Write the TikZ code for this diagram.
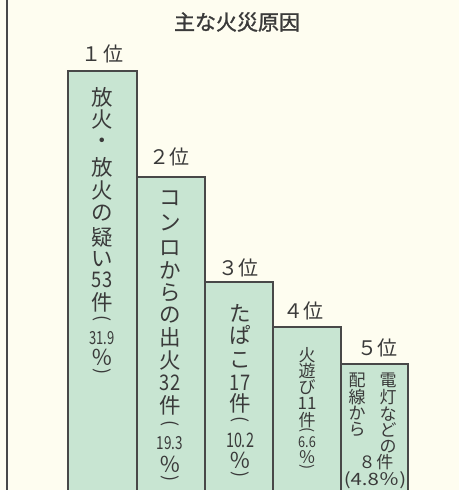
\documentclass[tikz,border=0pt]{standalone}
\usepackage{fontspec}
\newfontfamily\jp{Noto Sans CJK JP}
\newfontfamily\jpmed{Noto Sans CJK JP}[FakeBold=1.3]
\definecolor{bg}{HTML}{FEFDF0}
\definecolor{barfill}{HTML}{C8E5D2}
\definecolor{ink}{HTML}{3A3A3A}
\definecolor{edge}{HTML}{484848}
\newcommand{\vlp}{\rotatebox[origin=c]{-90}{(}}
\newcommand{\vrp}{\rotatebox[origin=c]{-90}{)}}
\begin{document}
\begin{tikzpicture}[x=1pt,y=-1pt,
  bar/.style={fill=barfill, draw=edge, line width=1.1pt},
  vt/.style={inner sep=0pt, text=ink, font=\jp\fontsize{21.5}{21.5}\selectfont},
  vs/.style={inner sep=0pt, text=ink, font=\jp\fontsize{17}{17}\selectfont},
  rank/.style={inner sep=0pt, text=ink, font=\jp\fontsize{20}{20}\selectfont},
  ttl/.style={inner sep=0pt, text=ink, font=\jpmed\fontsize{21}{21}\selectfont},
]
\path[fill=bg] (0,0) rectangle (459,490);
\useasboundingbox (0,0) rectangle (459,490);
\draw[edge, line width=1.4pt] (7,0) -- (7,490);
\begin{scope}
\clip (0,0) rectangle (459,490);
\path[bar] (68,71) rectangle (137,500);
\path[bar] (137,177) rectangle (205,500);
\path[bar] (205,282) rectangle (273,500);
\path[bar] (273,327) rectangle (341,500);
\path[bar] (341,364) rectangle (408,500);
\end{scope}
% title and ranks
\node[ttl] (title) at (237,22) {主な火災原因};
\node[rank] (rank1) at (102,54) {１\hspace{2pt}位};
\node[rank] (rank2) at (169,157) {２位};
\node[rank] (rank3) at (238,268) {３位};
\node[rank] (rank4) at (303,311) {４位};
\node[rank] (rank5) at (377,348) {５位};
% bar 1
\foreach \t/\y [count=\i] in {放/97,火/119,・/143,放/167,火/190,の/213,疑/237,い/259,{\scalebox{0.85}[1]{53}}/280,件/302,{\fontsize{18}{18}\selectfont\vlp}/320,{\fontsize{18}{18}\selectfont\scalebox{0.72}[1]{31.9}}/338,％/357,{\fontsize{18}{18}\selectfont\vrp}/373}
  \node[vt] (a\i) at (102,\y) {\t};
% bar 2
\foreach \t/\y [count=\i] in {コ/198,ン/223,ロ/248,か/270,ら/293,の/315,出/337,火/360,{\scalebox{0.85}[1]{32}}/383,件/405,{\fontsize{18}{18}\selectfont\vlp}/425,{\fontsize{18}{18}\selectfont\scalebox{0.75}[1]{19.3}}/443,％/464,{\fontsize{18}{18}\selectfont\vrp}/480}
  \node[vt] (b\i) at (170,\y) {\t};
% bar 3
\foreach \t/\y [count=\i] in {た/313,ぱ/335,こ/360,{\scalebox{0.85}[1]{17}}/383,件/403,{\fontsize{18}{18}\selectfont\vlp}/421,{\fontsize{20}{20}\selectfont\scalebox{0.72}[1]{10.2}}/440,％/460,{\fontsize{18}{18}\selectfont\vrp}/476}
  \node[vt] (c\i) at (240,\y) {\t};
% bar 4
\foreach \t/\y [count=\i] in {火/355,遊/371,び/387,11/403,件/420,{\fontsize{15}{15}\selectfont\vlp}/431,{\fontsize{15}{15}\selectfont\scalebox{0.85}[1]{6.6}}/442,％/457,{\fontsize{15}{15}\selectfont\vrp}/468}
  \node[vs] (d\i) at (307,\y) {\t};
% bar 5
\foreach \t/\y [count=\i] in {電/380,灯/397,な/414,ど/430,の/447}
  \node[vs] (e\i) at (388,\y) {\t};
\foreach \t/\y [count=\i] in {配/380,線/397,か/413,ら/429}
  \node[vs] (f\i) at (357,\y) {\t};
\node[vs] (g1) at (376,462) {８\hspace{1pt}件};
\node[vs] (g2) at (375,480) {\scalebox{1.2}[1]{(4.8％)}};
\end{tikzpicture}
\end{document}
